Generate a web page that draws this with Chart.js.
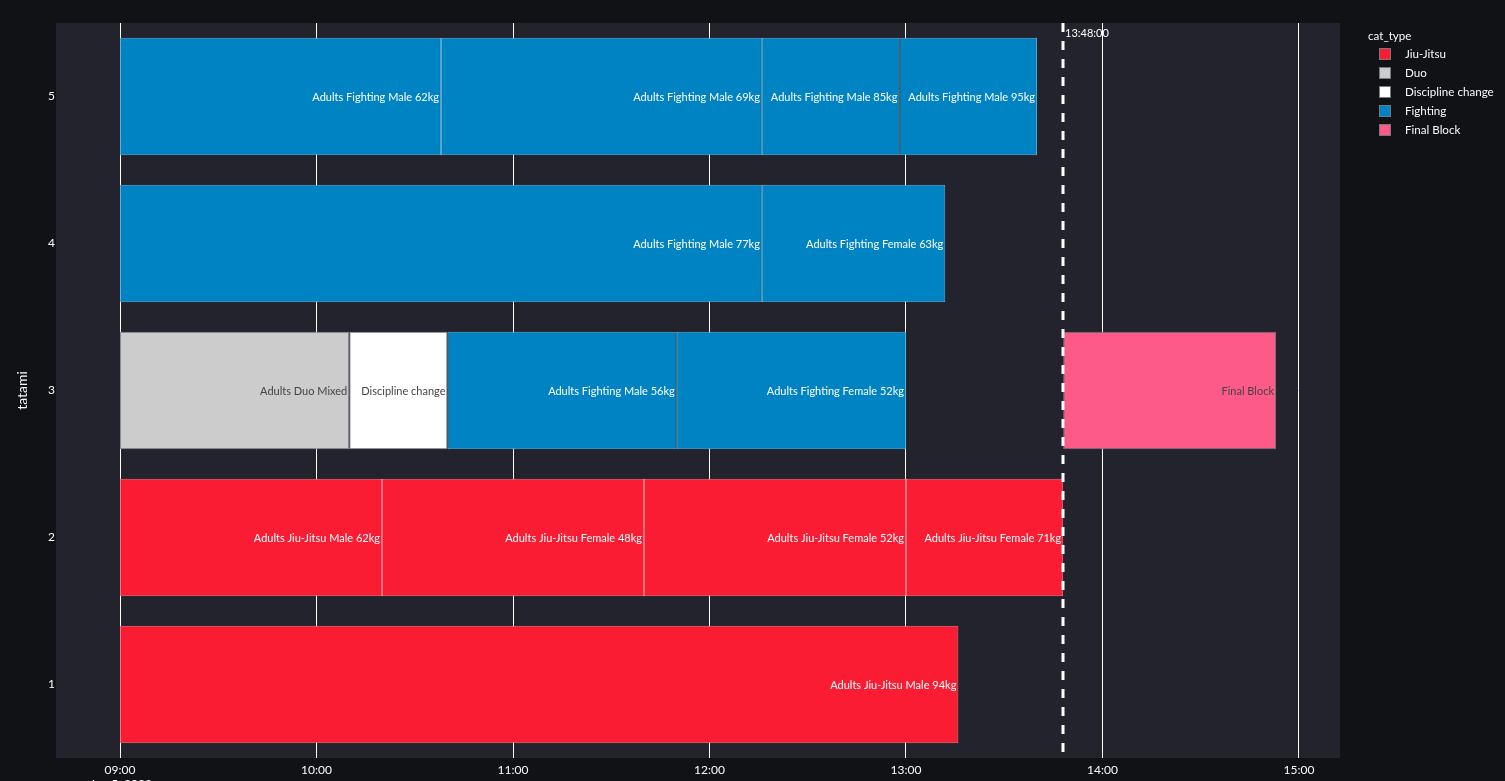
<!DOCTYPE html>
<html>
<head>
<meta charset="utf-8">
<script src="https://cdn.jsdelivr.net/npm/chart.js@4.4.0/dist/chart.umd.min.js"></script>
<style>
  html, body { margin: 0; padding: 0; background: #111216; overflow: hidden; }
  #wrap { position: relative; width: 1505px; height: 781px; }
  #legend { position: absolute; left: 1368px; top: 27px; font-family: Lato, "Noto Sans", sans-serif; font-size: 11.6px; color: #fafafa; }
  #legend .title { height: 17px; line-height: 17px; }
  #legend .item { height: 19px; line-height: 19px; display: flex; align-items: center; }
  #legend .box { width: 12px; height: 12px; margin-left: 11px; margin-right: 14px; box-sizing: border-box; border: 1px solid #77777f; }
  #dateLbl { position: absolute; left: 90px; top: 776px; font-family: Lato, "Noto Sans", sans-serif; font-size: 12px; color: #fafafa; }
</style>
</head>
<body>
<div id="wrap">
  <canvas id="gantt"></canvas>
  <div id="legend"></div>
  <div id="dateLbl">Jun 5, 2023</div>
</div>
<script>
// tatami rows, top to bottom
const tatamis = ['5', '4', '3', '2', '1'];
const catTypes = ['Jiu-Jitsu', 'Duo', 'Discipline change', 'Fighting', 'Final Block'];
const catColors = ['#fa1c32', '#cccccc', '#ffffff', '#0083c3', '#fe5a87'];
const catBorders = ['#fc7280', '#8a8a92', '#8a8a92', '#5ab0dc', '#7a7680'];
const labelColors = ['#ffffff', '#444444', '#444444', '#ffffff', '#444444'];

// schedule blocks (times as "HH:MM")
const blockTatami = ['5', '5', '5', '5', '4', '4', '3', '3', '3', '3', '3', '2', '2', '2', '2', '1'];
const blockStart = ['09:00', '10:38', '12:16', '12:58', '09:00', '12:16', '09:00', '10:10', '10:40', '11:50', '13:48', '09:00', '10:20', '11:40', '13:00', '09:00'];
const blockEnd = ['10:38', '12:16', '12:58', '13:40', '12:16', '13:12', '10:10', '10:40', '11:50', '13:00', '14:53', '10:20', '11:40', '13:00', '13:48', '13:16'];
const blockType = ['Fighting', 'Fighting', 'Fighting', 'Fighting', 'Fighting', 'Fighting', 'Duo', 'Discipline change', 'Fighting', 'Fighting', 'Final Block', 'Jiu-Jitsu', 'Jiu-Jitsu', 'Jiu-Jitsu', 'Jiu-Jitsu', 'Jiu-Jitsu'];
const blockName = [
    'Adults Fighting Male 62kg', 'Adults Fighting Male 69kg', 'Adults Fighting Male 85kg', 'Adults Fighting Male 95kg',
    'Adults Fighting Male 77kg', 'Adults Fighting Female 63kg',
    'Adults Duo Mixed', 'Discipline change', 'Adults Fighting Male 56kg', 'Adults Fighting Female 52kg', 'Final Block',
    'Adults Jiu-Jitsu Male 62kg', 'Adults Jiu-Jitsu Female 48kg', 'Adults Jiu-Jitsu Female 52kg', 'Adults Jiu-Jitsu Female 71kg',
    'Adults Jiu-Jitsu Male 94kg'
];

const nowMark = '13:48';
const nowLabel = '13:48:00';
const axisMin = '08:40:27';
const axisMax = '15:12:32';

const toMin = (s) => {
    const p = s.split(':').map(Number);
    return p[0] * 60 + p[1] + (p[2] || 0) / 60;
};
const fmt = (m) => String(Math.floor(m / 60)).padStart(2, '0') + ':' + String(Math.round(m % 60)).padStart(2, '0');

const FONT = 'Lato, "Noto Sans", sans-serif';

const datasets = catTypes.map((t, ci) => ({
    label: t,
    data: blockType.map((bt, i) => bt === t ? { y: blockTatami[i], x: [toMin(blockStart[i]), toMin(blockEnd[i])], name: blockName[i] } : null).filter(Boolean),
    backgroundColor: catColors[ci],
    borderColor: catBorders[ci],
    borderWidth: 1,
    borderSkipped: false,
    grouped: false,
    barPercentage: 1,
    categoryPercentage: 0.8,
}));

// legend
const legendEl = document.getElementById('legend');
legendEl.innerHTML = '<div class="title">cat_type</div>' + catTypes.map((t, i) =>
    '<div class="item"><span class="box" style="background:' + catColors[i] + '"></span>' + t + '</div>').join('');

const plotBg = {
    id: 'plotBg',
    beforeDraw(chart) {
        const { ctx, chartArea: a } = chart;
        ctx.save();
        ctx.fillStyle = '#22232c';
        ctx.fillRect(a.left, a.top, a.right - a.left, a.bottom - a.top);
        ctx.restore();
    }
};

const barText = {
    id: 'barText',
    afterDatasetsDraw(chart) {
        const ctx = chart.ctx;
        ctx.save();
        ctx.font = '11px ' + FONT;
        ctx.textAlign = 'right';
        ctx.textBaseline = 'middle';
        chart.data.datasets.forEach((ds, di) => {
            const meta = chart.getDatasetMeta(di);
            meta.data.forEach((el, i) => {
                ctx.fillStyle = labelColors[di];
                ctx.fillText(ds.data[i].name, el.x - 2, el.y + 1);
            });
        });
        // current time marker
        const x = Math.round(chart.scales.x.getPixelForValue(toMin(nowMark)));
        const a = chart.chartArea;
        ctx.strokeStyle = '#ffffff';
        ctx.lineWidth = 3;
        ctx.setLineDash([9, 9]);
        ctx.beginPath();
        ctx.moveTo(x, a.top);
        ctx.lineTo(x, a.bottom);
        ctx.stroke();
        ctx.setLineDash([]);
        ctx.fillStyle = '#ffffff';
        ctx.textAlign = 'left';
        ctx.font = '11px ' + FONT;
        ctx.fillText(nowLabel, x + 2, a.top + 10);
        ctx.restore();
    }
};

new Chart(document.getElementById('gantt'), {
    type: 'bar',
    data: { labels: tatamis, datasets: datasets },
    options: {
        indexAxis: 'y',
        responsive: true,
        maintainAspectRatio: false,
        animation: false,
        layout: { padding: { top: 23, right: 165, left: 0, bottom: 0 } },
        plugins: {
            legend: { display: false },
            tooltip: { enabled: false }
        },
        scales: {
            x: {
                type: 'linear',
                min: toMin(axisMin),
                max: toMin(axisMax),
                afterBuildTicks(scale) {
                    scale.ticks = [];
                    for (let m = Math.ceil(scale.min / 60) * 60; m <= scale.max; m += 60) scale.ticks.push({ value: m });
                },
                afterFit(scale) { scale.height = 23; },
                grid: { color: '#ffffff', lineWidth: 1, drawTicks: false },
                border: { display: false },
                ticks: {
                    color: '#fafafa',
                    padding: 5,
                    font: { family: FONT, size: 12 },
                    maxRotation: 0,
                    callback: (v) => fmt(v)
                }
            },
            y: {
                type: 'category',
                offset: true,
                afterFit(scale) { scale.width = 56; },
                grid: { display: false, drawTicks: false },
                border: { display: false },
                ticks: { color: '#fafafa', padding: 1, font: { family: FONT, size: 12 } },
                title: {
                    display: true,
                    text: 'tatami',
                    color: '#fafafa',
                    font: { family: FONT, size: 14 },
                    padding: { top: 14, bottom: 0 }
                }
            }
        }
    },
    plugins: [plotBg, barText]
});
</script>
</body>
</html>
